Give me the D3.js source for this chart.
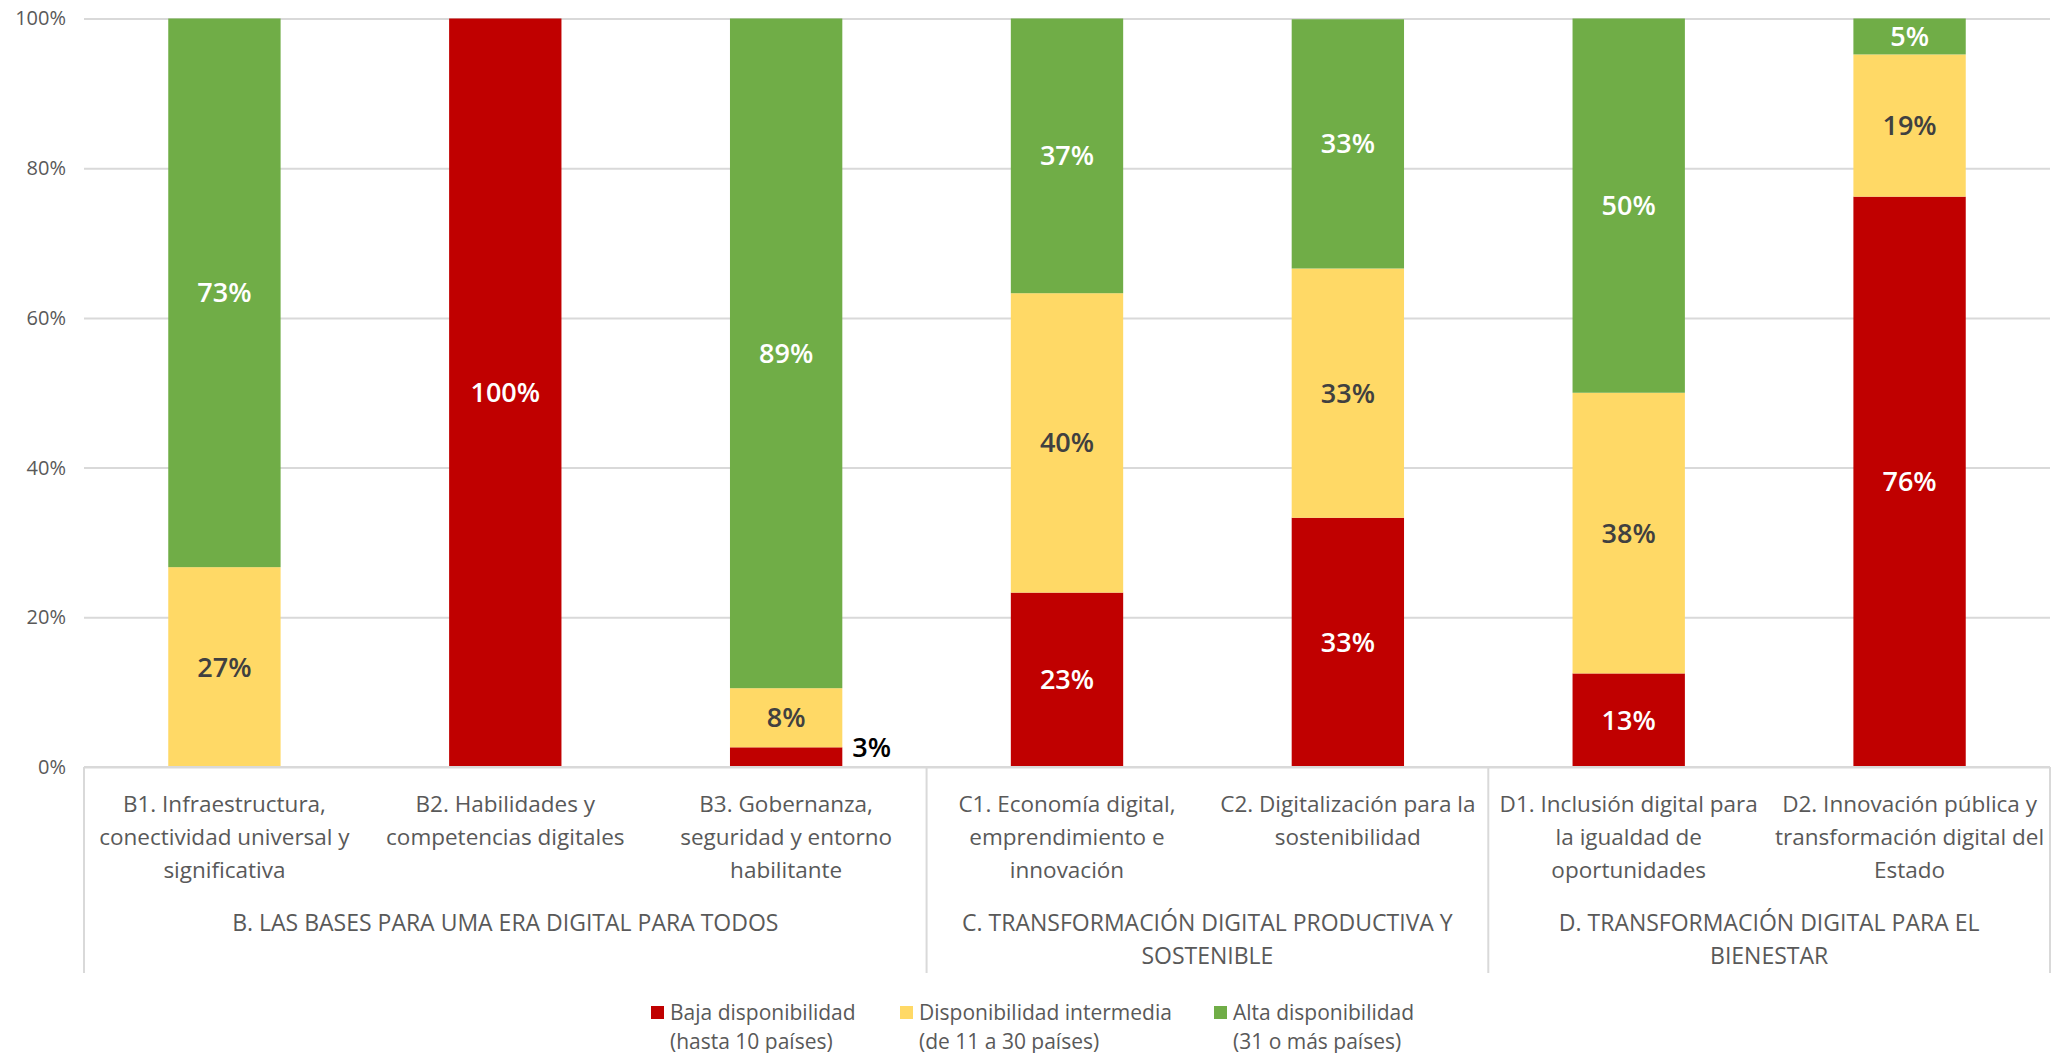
<!DOCTYPE html>
<html>
<head>
<meta charset="utf-8">
<script src="https://cdn.jsdelivr.net/npm/d3@7"></script>
<style>
  body { margin: 0; background: #fff; }
  svg { font-family: "Open Sans", "Noto Sans", sans-serif; }
</style>
</head>
<body>
<svg id="chart" width="2066" height="1053"></svg>
<script>
// categories (label lines) and their groups
const codes = ['B1', 'B2', 'B3', 'C1', 'C2', 'D1', 'D2'];
const catLabels = [
    ['B1. Infraestructura,', 'conectividad universal y', 'significativa'],
    ['B2. Habilidades y', 'competencias digitales'],
    ['B3. Gobernanza,', 'seguridad y entorno', 'habilitante'],
    ['C1. Economía digital,', 'emprendimiento e', 'innovación'],
    ['C2. Digitalización para la', 'sostenibilidad'],
    ['D1. Inclusión digital para', 'la igualdad de', 'oportunidades'],
    ['D2. Innovación pública y', 'transformación digital del', 'Estado']
];
const groupNames = [
    ['B. LAS BASES PARA UMA ERA DIGITAL PARA TODOS'],
    ['C. TRANSFORMACIÓN DIGITAL PRODUCTIVA Y', 'SOSTENIBLE'],
    ['D. TRANSFORMACIÓN DIGITAL PARA EL', 'BIENESTAR']
];
const groupMembers = [['B1', 'B2', 'B3'], ['C1', 'C2'], ['D1', 'D2']];

// series values (% of countries)
const baja = [0, 100, 2.63, 23.3, 33.3, 12.5, 76.2];
const intermedia = [26.7, 0, 7.9, 40, 33.3, 37.5, 19.0];
const alta = [73.3, 0, 89.47, 36.7, 33.3, 50, 4.8];

const seriesNames = ['Baja disponibilidad', 'Disponibilidad intermedia', 'Alta disponibilidad'];
const seriesSub = ['(hasta 10 países)', '(de 11 a 30 países)', '(31 o más países)'];
const colors = ['#C00000', '#FFD966', '#70AD47'];
const labelColors = ['#ffffff', '#404040', '#ffffff'];
const yTicks = [0, 20, 40, 60, 80, 100];

const svg = d3.select('#chart');
const plot = {left: 84, right: 2050, top: 18.5, bottom: 767};

const x = d3.scaleBand().domain(codes).range([plot.left, plot.right]).paddingInner(0.6).paddingOuter(0.3);
const y = d3.scaleLinear().domain([0, 100]).range([plot.bottom, plot.top]);

//gridlines + y labels
const yAxis = svg.append('g')
    .attr('transform', `translate(${plot.left},0)`)
    .call(d3.axisLeft(y).tickValues(yTicks).tickFormat(d => d + '%').tickSize(-(plot.right - plot.left)).tickPadding(18));
yAxis.select('.domain').remove();
yAxis.selectAll('line').attr('stroke', '#d9d9d9').attr('stroke-width', 2);
yAxis.selectAll('text').attr('fill', '#595959').style('font-size', '20px').style('font-family', '"Open Sans", sans-serif');

//stack the data
const rows = codes.map((c, i) => ({ code: c, s0: baja[i], s1: intermedia[i], s2: alta[i] }));
const stack = d3.stack().keys(['s0', 's1', 's2'])(rows);

const layers = svg.append('g').selectAll('g')
    .data(stack)
    .enter().append('g')
    .attr('fill', (d, i) => colors[i]);

layers.selectAll('rect')
    .data(d => d)
    .enter().append('rect')
    .attr('x', d => x(d.data.code))
    .attr('width', x.bandwidth())
    .attr('y', d => y(d[1]))
    .attr('height', d => y(d[0]) - y(d[1]));

//data labels
stack.forEach((layer, i) => {
    layer.forEach(d => {
        const v = d[1] - d[0];
        if (v <= 0) return;
        const h = y(d[0]) - y(d[1]);
        const small = h < 30;
        svg.append('text')
            .attr('x', small ? x(d.data.code) + x.bandwidth() + 10 : x(d.data.code) + x.bandwidth() / 2)
            .attr('y', small ? (y(d[0]) + y(d[1])) / 2 - 10 : (y(d[0]) + y(d[1])) / 2)
            .attr('dy', '0.35em')
            .attr('text-anchor', small ? 'start' : 'middle')
            .attr('fill', small ? '#000' : labelColors[i])
            .style('font-size', '27px')
            .style('font-weight', 600)
            .text(Math.round(v) + '%');
    });
});

//category axis: baseline, separators, labels
const step = x.step();
svg.append('line')
    .attr('x1', plot.left).attr('x2', plot.right).attr('y1', plot.bottom).attr('y2', plot.bottom)
    .attr('stroke', '#d9d9d9').attr('stroke-width', 2);

const bounds = groupMembers.map(m => {
    const first = x(m[0]) - (step - x.bandwidth()) / 2;
    const last = x(m[m.length - 1]) + x.bandwidth() + (step - x.bandwidth()) / 2;
    return [first, last];
});
const sepX = [plot.left].concat(bounds.slice(0, -1).map(b => b[1])).concat([plot.right]);
svg.selectAll('.sep')
    .data(sepX)
    .enter().append('line')
    .attr('x1', d => d).attr('x2', d => d)
    .attr('y1', plot.bottom).attr('y2', 973)
    .attr('stroke', '#d9d9d9').attr('stroke-width', 2);

const catText = svg.append('g').selectAll('text')
    .data(codes)
    .enter().append('text')
    .attr('text-anchor', 'middle')
    .attr('fill', '#595959')
    .style('font-size', '22.5px');
catText.each(function(c, i) {
    const t = d3.select(this);
    catLabels[i].forEach((line, j) => {
        t.append('tspan')
            .attr('x', x(c) + x.bandwidth() / 2)
            .attr('y', 812 + j * 33)
            .text(line);
    });
});

groupNames.forEach((g, i) => {
    const t = svg.append('text')
        .attr('text-anchor', 'middle')
        .attr('fill', '#595959')
        .style('font-size', '23px');
    g.forEach((line, j) => {
        t.append('tspan')
            .attr('x', (bounds[i][0] + bounds[i][1]) / 2)
            .attr('y', 931 + j * 33)
            .text(line);
    });
});

//legend
const legendX = [651, 900, 1214];
const legend = svg.append('g').selectAll('g')
    .data(seriesNames)
    .enter().append('g')
    .attr('transform', (d, i) => `translate(${legendX[i]},0)`);
legend.append('rect')
    .attr('x', 0).attr('y', 1006).attr('width', 13).attr('height', 13)
    .attr('fill', (d, i) => colors[i]);
legend.append('text')
    .attr('x', 19).attr('y', 1020)
    .attr('fill', '#595959').style('font-size', '21px')
    .text(d => d);
legend.append('text')
    .attr('x', 19).attr('y', 1049)
    .attr('fill', '#595959').style('font-size', '21px')
    .text((d, i) => seriesSub[i]);
</script>
</body>
</html>
